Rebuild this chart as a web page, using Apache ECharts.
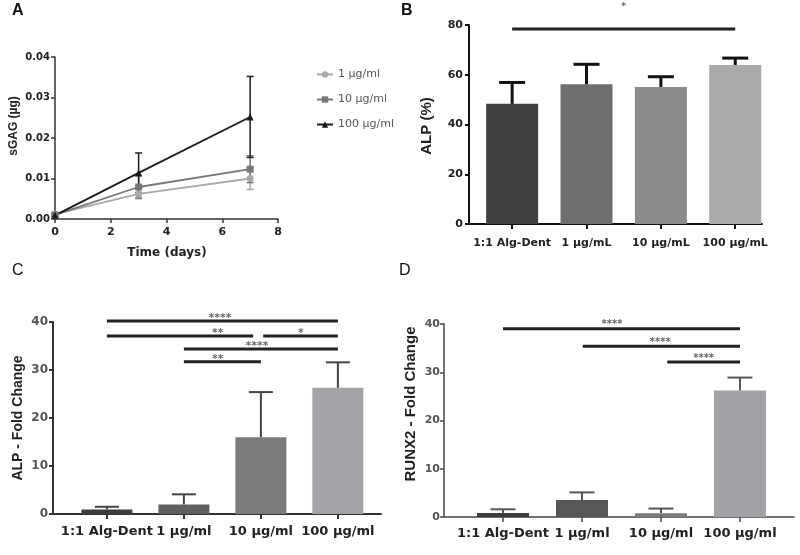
<!DOCTYPE html>
<html><head><meta charset="utf-8">
<script src="https://cdn.jsdelivr.net/npm/echarts@6/dist/echarts.min.js"></script>
<style>html,body{margin:0;padding:0;background:#fff}#c{width:800px;height:555px}</style>
</head><body><div id="c"></div>
<script>
// ---------- Panel A : sGAG over time ----------
const days = [0, 3, 7];
const seriesNamesA = ['1 µg/ml', '10 µg/ml', '100 µg/ml'];
const sgag1 = [0.0012, 0.0062, 0.0100];
const sgag1Err = [0.0004, 0.0012, 0.0027];
const sgag10 = [0.0010, 0.0079, 0.0123];
const sgag10Err = [0.0003, 0.0027, 0.0033];
const sgag100 = [0.0009, 0.0114, 0.0252];
const sgag100Err = [0.0003, 0.0049, 0.0100];

// ---------- Panel B : ALP (%) ----------
const catsB = ['1:1 Alg-Dent', '1 µg/mL', '10 µg/mL', '100 µg/mL'];
const alpPct = [48.3, 56.2, 55.1, 63.9];
const alpPctErr = [8.6, 8.0, 4.1, 2.8];
// [from, to, level, text position, text]
const sigB = [[0, 3, 78.4, 1.5, '*']];

// ---------- Panel C : ALP fold change ----------
const catsCD = ['1:1 Alg-Dent', '1 µg/ml', '10 µg/ml', '100 µg/ml'];
const alpFold = [0.95, 2.0, 16.0, 26.3];
const alpFoldErr = [0.55, 2.1, 9.4, 5.3];
const sigC = [
  [0, 3, 40.2, 1.47, '****'],
  [0, 1.9, 37.1, 1.44, '**'],
  [2.03, 3, 37.1, 2.52, '*'],
  [1, 3, 34.4, 1.95, '****'],
  [1, 2, 31.7, 1.44, '**']
];

// ---------- Panel D : RUNX2 fold change ----------
const runx2Fold = [0.85, 3.5, 0.8, 26.2];
const runx2FoldErr = [0.75, 1.6, 0.95, 2.7];
const sigD = [
  [0, 3, 39.0, 1.38, '****'],
  [1.01, 3, 35.4, 1.99, '****'],
  [2.08, 3, 32.1, 2.54, '****']
];
const catIdx = [0, 1, 2, 3];

// ---------- styles ----------
const FW = 'DejaVu Sans';
const FN = 'Liberation Sans';
const colorsA = ['#a9a9a9', '#777777', '#1c1c1c'];
const symbolsA = ['circle', 'rect', 'triangle'];
const colorsB = ['#414141', '#6e6e6e', '#8b8b8b', '#aaaaac'];
const colorsC = ['#3d3d3d', '#5f5f5f', '#7b7b7b', '#a4a4a8'];
const colorsD = ['#3d3d3d', '#575757', '#7a7a7a', '#a3a3a7'];

const chart = echarts.init(document.getElementById('c'), null, {renderer: 'canvas'});

function errRender(capW, color, lw, both) {
  return function (params, api) {
    const x = api.value(0), v = api.value(1), e = api.value(2);
    const top = api.coord([x, v + e]);
    const mid = api.coord([x, v]);
    const bot = both ? api.coord([x, v - e]) : mid;
    const st = {stroke: color, lineWidth: lw};
    const ch = [
      {type: 'line', shape: {x1: top[0], y1: top[1], x2: bot[0], y2: bot[1]}, style: st},
      {type: 'line', shape: {x1: top[0] - capW / 2, y1: top[1], x2: top[0] + capW / 2, y2: top[1]}, style: st}
    ];
    if (both) ch.push({type: 'line', shape: {x1: bot[0] - capW / 2, y1: bot[1], x2: bot[0] + capW / 2, y2: bot[1]}, style: st});
    return {type: 'group', children: ch};
  };
}
function sigRender(rows, textOff, fontSize) {
  return function (params, api) {
    const r = rows[params.dataIndex];
    const a = api.coord([r[0], r[2]]);
    const b = api.coord([r[1], r[2]]);
    const t = api.coord([r[3], r[2]]);
    return {type: 'group', children: [
      {type: 'line', shape: {x1: a[0], y1: a[1], x2: b[0], y2: b[1]}, style: {stroke: '#222', lineWidth: 3}},
      {type: 'text', x: t[0], y: t[1] + textOff, style: {text: r[4], fill: '#666', font: 'bold ' + fontSize + 'px ' + FW,
        align: 'center', verticalAlign: 'middle', textAlign: 'center', textVerticalAlign: 'middle'}}
    ]};
  };
}
function errData(xs, vals, errs) { return xs.map((x, i) => [x, vals[i], errs[i]]); }
function barData(vals, cols) { return vals.map((v, i) => ({value: [i, v], itemStyle: {color: cols[i]}})); }

function catXAxis(grid, min, max, cats, fs, margin, lineColor, lw) {
  return {
    gridIndex: grid, type: 'value', min: min, max: max,
    splitLine: {show: false},
    axisLine: {show: true, onZero: false, lineStyle: {color: lineColor, width: lw}},
    axisTick: {show: true, customValues: catIdx, length: 5, lineStyle: {color: lineColor, width: lw}},
    axisLabel: {customValues: catIdx, formatter: v => cats[Math.round(v)], margin: margin,
      fontFamily: FW, fontWeight: 'bold', fontSize: fs, color: '#222'}
  };
}
function valYAxis(grid, max, interval, fs, margin, labelColor, lineColor, lw, fmt) {
  return {
    gridIndex: grid, type: 'value', min: 0, max: max, interval: interval,
    splitLine: {show: false},
    axisLine: {show: true, onZero: false, lineStyle: {color: lineColor, width: lw}},
    axisTick: {show: true, length: 4, lineStyle: {color: lineColor, width: lw}},
    axisLabel: {margin: margin, fontFamily: FW, fontWeight: 'bold', fontSize: fs, color: labelColor,
      formatter: fmt || (v => String(v))}
  };
}

const seriesA = [sgag1, sgag10, sgag100];
const errsA = [sgag1Err, sgag10Err, sgag100Err];

const series = [];
seriesA.forEach((vals, k) => {
  series.push({
    type: 'custom', xAxisIndex: 0, yAxisIndex: 0, z: 1,
    renderItem: errRender(7, colorsA[k], 1.5, true),
    data: errData(days, vals, errsA[k]), silent: true
  });
});
seriesA.forEach((vals, k) => {
  series.push({
    type: 'line', name: seriesNamesA[k], xAxisIndex: 0, yAxisIndex: 0, z: 3,
    data: days.map((d, i) => [d, vals[i]]),
    symbol: symbolsA[k], symbolSize: 7, showSymbol: true,
    itemStyle: {color: colorsA[k]}, lineStyle: {color: colorsA[k], width: 1.8}
  });
});
// Panel B
series.push({type: 'bar', xAxisIndex: 1, yAxisIndex: 1, barWidth: 52, data: barData(alpPct, colorsB), z: 2});
series.push({type: 'custom', xAxisIndex: 1, yAxisIndex: 1, z: 3, renderItem: errRender(26, '#111', 3, false),
  data: errData(catIdx, alpPct, alpPctErr)});
series.push({type: 'custom', xAxisIndex: 1, yAxisIndex: 1, z: 4, renderItem: sigRender(sigB, -22, 9),
  data: sigB.map(r => [r[0], r[2]])});
// Panel C
series.push({type: 'bar', xAxisIndex: 2, yAxisIndex: 2, barWidth: 51, data: barData(alpFold, colorsC), z: 2});
series.push({type: 'custom', xAxisIndex: 2, yAxisIndex: 2, z: 3, renderItem: errRender(24, '#444', 2, false),
  data: errData(catIdx, alpFold, alpFoldErr)});
series.push({type: 'custom', xAxisIndex: 2, yAxisIndex: 2, z: 4, renderItem: sigRender(sigC, -3, 11),
  data: sigC.map(r => [r[0], r[2]])});
// Panel D
series.push({type: 'bar', xAxisIndex: 3, yAxisIndex: 3, barWidth: 52, data: barData(runx2Fold, colorsD), z: 2});
series.push({type: 'custom', xAxisIndex: 3, yAxisIndex: 3, z: 3, renderItem: errRender(25, '#555', 2, false),
  data: errData(catIdx, runx2Fold, runx2FoldErr)});
series.push({type: 'custom', xAxisIndex: 3, yAxisIndex: 3, z: 4, renderItem: sigRender(sigD, -4, 10),
  data: sigD.map(r => [r[0], r[2]])});

function txt(x, y, s, font, color, rot) {
  return {type: 'text', x: x, y: y, rotation: rot || 0,
    style: {text: s, font: font, fill: color || '#222', align: 'center', verticalAlign: 'middle',
      textAlign: 'center', textVerticalAlign: 'middle'}};
}

const option = {
  animation: false,
  backgroundColor: '#fff',
  grid: [
    {left: 55, top: 57, width: 223, height: 162},
    {left: 469, top: 25, width: 293, height: 199},
    {left: 53, top: 322, width: 328, height: 192},
    {left: 444, top: 324, width: 350, height: 193}
  ],
  xAxis: [
    {gridIndex: 0, type: 'value', min: 0, max: 8, interval: 2, splitLine: {show: false},
      axisLine: {show: true, onZero: false, lineStyle: {color: '#333', width: 1.5}},
      axisTick: {show: true, length: 4, lineStyle: {color: '#333', width: 1.5}},
      axisLabel: {margin: 8, fontFamily: FW, fontWeight: 'bold', fontSize: 11, color: '#222'}},
    catXAxis(1, -0.58, 3.36, catsB, 11, 14, '#111', 2),
    catXAxis(2, -0.70, 3.56, catsCD, 13, 11, '#333', 2),
    catXAxis(3, -0.747, 3.684, catsCD, 13, 10, '#444', 1.5)
  ],
  yAxis: [
    valYAxis(0, 0.04, 0.01, 10, 5, '#222', '#333', 1.5, v => v.toFixed(2)),
    valYAxis(1, 80, 20, 11, 6, '#222', '#111', 2),
    valYAxis(2, 40, 10, 12, 5, '#555', '#333', 2),
    valYAxis(3, 40, 10, 11, 4, '#555', '#444', 1.5)
  ],
  legend: {
    show: true, orient: 'vertical', left: 311, top: 64, itemWidth: 16, itemHeight: 8, itemGap: 14,
    data: seriesNamesA,
    textStyle: {fontFamily: FW, fontSize: 11, color: '#555'}
  },
  graphic: [
    {type: 'text', left: 12, top: 3, style: {text: 'A', font: 'bold 16px ' + FN, fill: '#111'}},
    {type: 'text', left: 401, top: 3, style: {text: 'B', font: 'bold 16px ' + FN, fill: '#111'}},
    {type: 'text', left: 12, top: 263, style: {text: 'C', font: '16px ' + FN, fill: '#111'}},
    {type: 'text', left: 399, top: 263, style: {text: 'D', font: '16px ' + FN, fill: '#111'}},
    txt(14, 126, 'sGAG (µg)', 'bold 12px ' + FN, '#222', Math.PI / 2),
    txt(167, 253, 'Time (days)', 'bold 12px ' + FW, '#222'),
    txt(427, 126, 'ALP (%)', 'bold 15px ' + FN, '#222', Math.PI / 2),
    txt(18, 418, 'ALP - Fold Change', 'bold 14px ' + FN, '#222', Math.PI / 2),
    txt(411, 404, 'RUNX2 - Fold Change', 'bold 15px ' + FN, '#222', Math.PI / 2)
  ],
  series: series
};
chart.setOption(option);
</script>
</body></html>
